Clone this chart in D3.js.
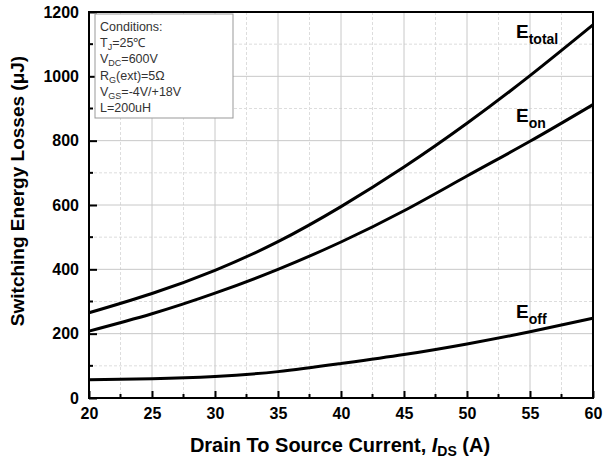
<!DOCTYPE html>
<html><head><meta charset="utf-8">
<script src="https://cdn.jsdelivr.net/npm/d3@7"></script>
<style>body{margin:0;background:#fff}svg{display:block;font-family:"Liberation Sans",Arial,sans-serif}</style>
</head><body><svg id="c" width="603" height="463"></svg>
<script>
const current = [20, 25, 30, 35, 40, 45, 50, 55, 60];
const eTotal = [265, 325, 397, 486, 595, 718, 854, 1002, 1160];
const eOn    = [208, 262, 326, 400, 485, 582, 690, 798, 912];
const eOff   = [57, 60, 67, 82, 107, 135, 168, 206, 248];
const xTicks = [20, 25, 30, 35, 40, 45, 50, 55, 60];
const yTicks = [0, 200, 400, 600, 800, 1000, 1200];
const conditions = [
  ["Conditions:"],
  ["T", "J", "=25\u2103"],
  ["V", "DC", "=600V"],
  ["R", "G", "(ext)=5\u03A9"],
  ["V", "GS", "=-4V/+18V"],
  ["L=200uH"]
];

const svg = d3.select("#c");
const L = 89, R = 593, T = 12, B = 398;
const x = d3.scaleLinear().domain([20, 60]).range([L, R]);
const y = d3.scaleLinear().domain([0, 1200]).range([B, T]);

// grid
const minorX = d3.range(22.5, 60, 5), minorY = d3.range(100, 1200, 200);
const g = svg.append("g");
g.selectAll(".mx").data(minorX).join("line").attr("x1", d => x(d)).attr("x2", d => x(d)).attr("y1", T).attr("y2", B)
  .attr("stroke", "#ddd").attr("stroke-width", 1).attr("stroke-dasharray", "3,2");
g.selectAll(".my").data(minorY).join("line").attr("y1", d => y(d)).attr("y2", d => y(d)).attr("x1", L).attr("x2", R)
  .attr("stroke", "#ddd").attr("stroke-width", 1).attr("stroke-dasharray", "3,2");
g.selectAll(".Mx").data(xTicks.slice(1, -1)).join("line").attr("x1", d => x(d)).attr("x2", d => x(d)).attr("y1", T).attr("y2", B)
  .attr("stroke", "#c8c8c8").attr("stroke-width", 1);
g.selectAll(".My").data(yTicks.slice(1, -1)).join("line").attr("y1", d => y(d)).attr("y2", d => y(d)).attr("x1", L).attr("x2", R)
  .attr("stroke", "#c8c8c8").attr("stroke-width", 1);

// axes
const xAxis = d3.axisBottom(x).tickValues(xTicks).tickSize(-7).tickPadding(16).tickFormat(d3.format("d"));
const yAxis = d3.axisLeft(y).tickValues(yTicks).tickSize(-8).tickPadding(16).tickFormat(d3.format("d"));
const gx = svg.append("g").attr("transform", `translate(0,${B})`).call(xAxis);
const gy = svg.append("g").attr("transform", `translate(${L},0)`).call(yAxis);
[gx, gy].forEach(a => {
  a.select(".domain").remove();
  a.selectAll(".tick line").attr("stroke", "#000").attr("stroke-width", 2);
  a.selectAll(".tick text").attr("font-size", 16).attr("font-weight", "bold").attr("fill", "#000")
    .attr("font-family", "Liberation Sans, Arial, sans-serif");
});
gx.selectAll(".tick text").attr("dy", "0.71em").attr("y", 10);
gy.selectAll(".tick text").attr("x", -10);
// minor ticks
svg.append("g").selectAll("line").data(minorX).join("line").attr("x1", d => x(d)).attr("x2", d => x(d))
  .attr("y1", B).attr("y2", B - 4).attr("stroke", "#000").attr("stroke-width", 2);
svg.append("g").selectAll("line").data(minorY).join("line").attr("y1", d => y(d)).attr("y2", d => y(d))
  .attr("x1", L).attr("x2", L + 4).attr("stroke", "#000").attr("stroke-width", 2);

svg.append("rect").attr("x", L).attr("y", T).attr("width", R - L).attr("height", B - T)
  .attr("fill", "none").attr("stroke", "#000").attr("stroke-width", 2);

// curves
const line = d3.line().x((d, i) => x(current[i])).y(d => y(d)).curve(d3.curveNatural);
[eTotal, eOn, eOff].forEach(s => {
  svg.append("path").datum(s).attr("d", line).attr("fill", "none").attr("stroke", "#000").attr("stroke-width", 3);
});

// curve labels
function lab(xp, yp, sub) {
  const t = svg.append("text").attr("x", xp).attr("y", yp).attr("font-weight", "bold").attr("font-size", 19).attr("fill", "#000");
  t.append("tspan").text("E");
  t.append("tspan").attr("font-size", 14).attr("dy", 6).text(sub);
}
lab(516, 38, "total");
lab(516, 122, "on");
lab(516, 318, "off");

// conditions box
svg.append("rect").attr("x", 95).attr("y", 14).attr("width", 138).attr("height", 104)
  .attr("fill", "#fff").attr("stroke", "#999").attr("stroke-width", 1);
conditions.forEach((c, i) => {
  const t = svg.append("text").attr("x", 100).attr("y", 31 + i * 16.2).attr("font-size", 12.5).attr("fill", "#333")
    .attr("font-family", "Liberation Sans, Arial, sans-serif");
  if (c.length === 1) { t.text(c[0]); return; }
  t.append("tspan").text(c[0]);
  t.append("tspan").attr("font-size", 9).attr("dy", 3).text(c[1]);
  t.append("tspan").attr("dy", -3).text(c[2]);
});

// axis titles
svg.append("text").attr("transform", "translate(24,191) rotate(-90)").attr("text-anchor", "middle")
  .attr("font-size", 19).attr("font-weight", "bold").attr("fill", "#000").text("Switching Energy Losses (\u03BCJ)");
const xt = svg.append("text").attr("x", 340).attr("y", 452).attr("text-anchor", "middle")
  .attr("font-size", 20).attr("font-weight", "bold").attr("fill", "#000");
xt.append("tspan").text("Drain To Source Current, ");
xt.append("tspan").attr("font-style", "italic").text("I");
xt.append("tspan").attr("font-size", 14).attr("dy", 4).text("DS");
xt.append("tspan").attr("dy", -4).text(" (A)");
</script></body></html>
